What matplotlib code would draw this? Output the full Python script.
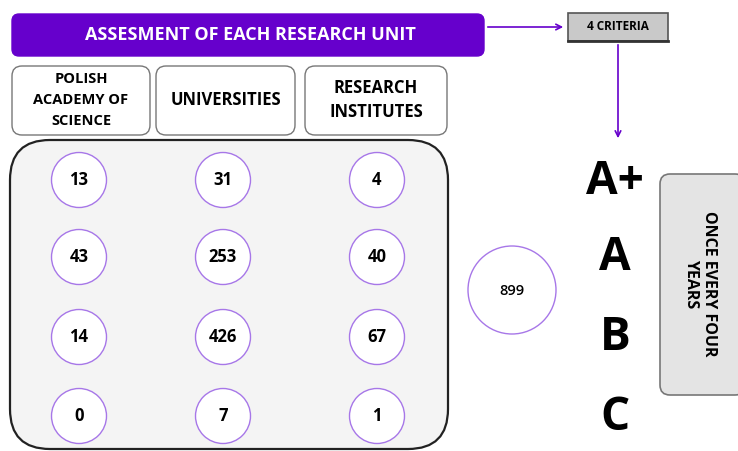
import matplotlib.pyplot as plt
from matplotlib.patches import FancyBboxPatch, Circle

# data
title = 'ASSESMENT OF EACH RESEARCH UNIT'
criteria_label = '4 CRITERIA'
categories = ['POLISH\nACADEMY OF\nSCIENCE', 'UNIVERSITIES', 'RESEARCH\nINSTITUTES']
grades = ['A+', 'A', 'B', 'C']
pas_counts = [13, 43, 14, 0]
uni_counts = [31, 253, 426, 7]
ri_counts = [4, 40, 67, 1]
total_units = 899
period_label = 'ONCE EVERY FOUR\nYEARS'

plt.rcParams['font.family'] = ['Open Sans', 'DejaVu Sans']

fig = plt.figure(figsize=(7.38, 4.51), dpi=100)
ax = fig.add_axes([0, 0, 1, 1])
ax.set_xlim(0, 738)
ax.set_ylim(451, 0)
ax.axis('off')

purple = '#6600cc'
ring = '#a777e8'


def rbox(x0, y0, x1, y1, pad, fc, ec, lw=1.0, z=1):
    p = FancyBboxPatch((x0 + pad, y0 + pad), x1 - x0 - 2 * pad, y1 - y0 - 2 * pad,
                       boxstyle=f'round,pad={pad}', fc=fc, ec=ec, lw=lw, zorder=z)
    ax.add_patch(p)


# title banner
rbox(12, 14, 484, 56, 7, purple, purple)
ax.text(250, 35, title, color='white', ha='center', va='center',
        fontsize=13, fontweight='bold', zorder=3)

# 4 criteria box with arrows
ax.annotate('', xy=(566, 27), xytext=(485, 27),
            arrowprops=dict(arrowstyle='->', color=purple, lw=1.2))
ax.add_patch(plt.Rectangle((568, 13), 100, 28, fc='#c9c9c9', ec='#555555', lw=1.2, zorder=2))
ax.plot([568, 668], [41, 41], color='#333333', lw=2, zorder=3)
ax.text(618, 26, criteria_label, ha='center', va='center', fontsize=8.5,
        fontweight='bold', zorder=3)
ax.annotate('', xy=(618, 141), xytext=(618, 42),
            arrowprops=dict(arrowstyle='->', color=purple, lw=1.2))

# category headers
header_x = [(12, 150), (156, 295), (305, 447)]
for (x0, x1), name in zip(header_x, categories):
    rbox(x0, 66, x1, 135, 10, 'white', '#777777', lw=1.0)
    three = name.count('\n') == 2
    ax.text((x0 + x1) / 2, 100, name, ha='center', va='center',
            fontsize=10.5 if three else 12, fontweight='bold',
            linespacing=1.6 if three else 1.45, zorder=3)

# panel with the counts
rbox(10, 140, 448, 449, 40, '#f4f4f4', '#222222', lw=1.6)

col_x = [79, 223, 377]
row_y = [180, 257, 337, 416]
for cx, counts in zip(col_x, [pas_counts, uni_counts, ri_counts]):
    for cy, v in zip(row_y, counts):
        ax.add_patch(Circle((cx, cy), 27.5, fc='white', ec=ring, lw=1.0, zorder=3))
        ax.text(cx, cy, str(v), ha='center', va='center', fontsize=12,
                fontweight='bold', zorder=4)

# total
ax.add_patch(Circle((512, 290), 44, fc='white', ec=ring, lw=1.0, zorder=3))
ax.text(512, 291, str(total_units), ha='center', va='center', fontsize=10.5,
        fontweight='semibold', zorder=4)

# grades
for cy, g in zip(row_y, grades):
    ax.text(615, cy + 1, g, ha='center', va='center', fontsize=33, fontweight='bold', zorder=3)

# period box
rbox(660, 174, 745, 395, 10, '#e4e4e4', '#777777', lw=1.2)
ax.text(700, 284, period_label, ha='center', va='center', rotation=-90,
        fontsize=11.5, fontweight='bold', linespacing=1.1, zorder=3)

fig.savefig('out.png', dpi=100)
